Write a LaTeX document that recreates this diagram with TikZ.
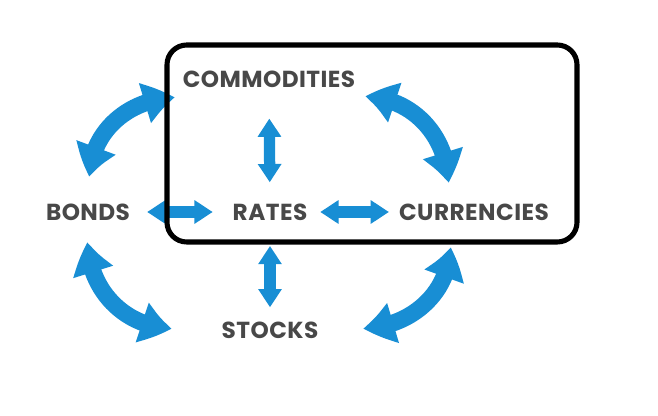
\documentclass[tikz,border=0pt]{standalone}
\usepackage{fontspec}
\setmainfont{Poppins}
\usepackage{xcolor}
\usepackage{tikz}
\usetikzlibrary{arrows.meta,bending}
\definecolor{arrowBlue}{RGB}{24, 142, 212}
\definecolor{labelGray}{RGB}{72, 72, 72}

\begin{document}
\begin{tikzpicture}[x=0.025cm, y=0.025cm,
  market/.style={font=\bfseries\fontsize{16.5}{19}\selectfont\addfontfeature{LetterSpace=2}, text=labelGray, inner sep=0pt},
  flow/.style={draw=arrowBlue, line width=8pt, {Triangle[width=16pt,length=13pt]}-{Triangle[width=16pt,length=13pt]}},
  swing/.style={draw=arrowBlue, line width=12pt, {Triangle[width=28pt,length=22pt,bend]}-{Triangle[width=28pt,length=22pt,bend]}}]
\useasboundingbox (0,0) rectangle (658,415);
% Markets
\node[market] (comm) at (269,336) {COMMODITIES};
\node[market] (bonds) at (88,203) {BONDS};
\node[market] (rates) at (270,203) {RATES};
\node[market] (curr) at (474,203) {CURRENCIES};
\node[market] (stocks) at (270,85) {STOCKS};
% Straight links
\draw[flow, shorten <=22pt, shorten >=15pt] (comm) -- (rates);
\draw[flow, shorten <=18pt, shorten >=10pt] (rates) -- (stocks);
\draw[flow, shorten <=12pt, shorten >=14pt] (bonds) -- (rates);
\draw[flow, shorten <=9pt, shorten >=7pt] (rates) -- (curr);
% Curved links
\coordinate (tlA) at (90,238);
\coordinate (tlB) at (175,317);
\coordinate (trA) at (365,318);
\coordinate (trB) at (448,232);
\coordinate (blA) at (88,173);
\coordinate (blB) at (172,87);
\coordinate (brA) at (450,168);
\coordinate (brB) at (363,87);
\draw[swing] (tlA) to[out=90, in=180] (tlB);
\draw[swing] (trA) to[out=0, in=90] (trB);
\draw[swing] (blA) to[out=-90, in=180] (blB);
\draw[swing] (brA) to[out=-90, in=0] (brB);
% Frame
\draw[line width=3.6pt, rounded corners=14pt] (167,173) rectangle (577,370);
\end{tikzpicture}
\end{document}
